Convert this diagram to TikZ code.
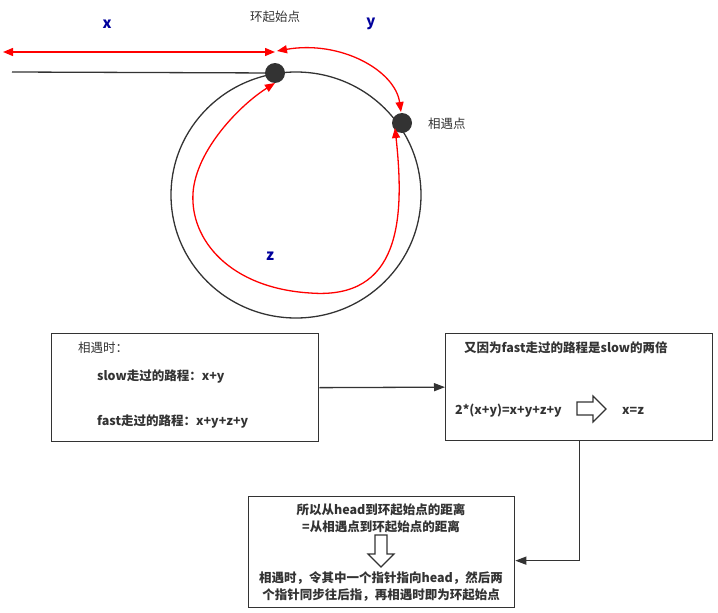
\documentclass[tikz,border=0pt]{standalone}
\usepackage{fontspec}
\setmainfont{Noto Sans CJK SC}
\usepackage{tikz}
\usetikzlibrary{arrows.meta}
\usetikzlibrary{positioning}
\definecolor{darkline}{HTML}{333333}
\definecolor{navylbl}{HTML}{00009C}

\tikzset{
    box/.style={draw=darkline,line width=1.3pt,fill=white,anchor=north west,inner sep=0pt},
    txt/.style={anchor=west,text=darkline,inner sep=0pt,font=\fontsize{12.5}{14}\selectfont\bfseries},
    plaintxt/.style={anchor=west,text=darkline,inner sep=0pt,font=\fontsize{12.5}{14}\selectfont},
    lbl/.style={text=navylbl,font=\fontsize{15}{17}\selectfont\bfseries},
    redarrow/.style={draw=red,line width=1.3pt,{Triangle[length=10pt,width=8pt]}-{Triangle[length=10pt,width=8pt]}},
    link/.style={draw=darkline,line width=1.3pt,-{Triangle[length=11pt,width=8pt]}},
    hollow/.style={draw=darkline,line width=1.2pt,fill=white,line join=miter}
}

\begin{document}
\begin{tikzpicture}[x=1pt,y=-1pt]
    \useasboundingbox (0,0) rectangle (718,613);

    % the list and the loop
    \draw[darkline,line width=1.3pt] (296,195) ellipse [x radius=125pt,y radius=123pt];
    \coordinate (tail) at (12,72);
    \node[circle,fill=darkline,minimum size=20pt,inner sep=0pt] (start) at (275,73) {};
    \node[circle,fill=darkline,minimum size=20pt,inner sep=0pt] (meet) at (402,123) {};
    \draw[darkline,line width=1.3pt] (tail) -- (start);

    \node[plaintxt,anchor=center] (startlbl) at (275,17) {环起始点};
    \node[plaintxt] (meetlbl) at (428,124) {相遇点};

    % x, y, z
    \coordinate (xl) at (3,52);
    \coordinate (xr) at (275,52);
    \draw[redarrow] (xl) -- (xr);
    \draw[redarrow] (277,51) .. controls (340,40) and (395,70) .. (401,112);
    \draw[redarrow] (395,128) .. controls (405,220) and (400,300) .. (310,293)
        .. controls (230,288) and (190,240) .. (193,193)
        .. controls (196,150) and (240,105) .. (275,83);

    \node[lbl] (x) at (107,24) {x};
    \node[lbl] (y) at (371,24) {y};
    \node[lbl] (z) at (270,256) {z};

    % boxes
    \node[box,minimum width=267pt,minimum height=108pt] (box1) at (51,333) {};
    \node[plaintxt] at (78,348) {相遇时：};
    \node[txt] at (97,377) {slow走过的路程：x+y};
    \node[txt] at (97,422) {fast走过的路程：x+y+z+y};

    \node[box,minimum width=267pt,minimum height=107pt] (box2) at (445,333) {};
    \node[txt] at (464,348) {又因为fast走过的路程是slow的两倍};
    \node[txt] at (455,411) {2*(x+y)=x+y+z+y};
    \draw[hollow] (577,402) -- (593,402) -- (593,396) -- (606,409) -- (593,422) -- (593,415) -- (577,415) -- cycle;
    \node[txt] at (622,411) {x=z};

    \node[box,minimum width=266pt,minimum height=111pt] (box3) at (248,496) {};
    \node[txt,anchor=center] at (381,510) {所以从head到环起始点的距离};
    \node[txt,anchor=center] at (381,527) {=从相遇点到环起始点的距离};
    \draw[hollow] (375,535) -- (387,535) -- (387,554) -- (394,554) -- (381,567) -- (368,554) -- (375,554) -- cycle;
    \node[txt,anchor=center] at (381,578) {相遇时，令其中一个指针指向head，然后两};
    \node[txt,anchor=center] at (381,595) {个指针同步往后指，再相遇时即为环起始点};

    % connectors
    \draw[link] (box1.east) -- (box2.west);
    \draw[link] (box2.south) |- ([yshift=-8.5pt]box3.east);
\end{tikzpicture}
\end{document}
